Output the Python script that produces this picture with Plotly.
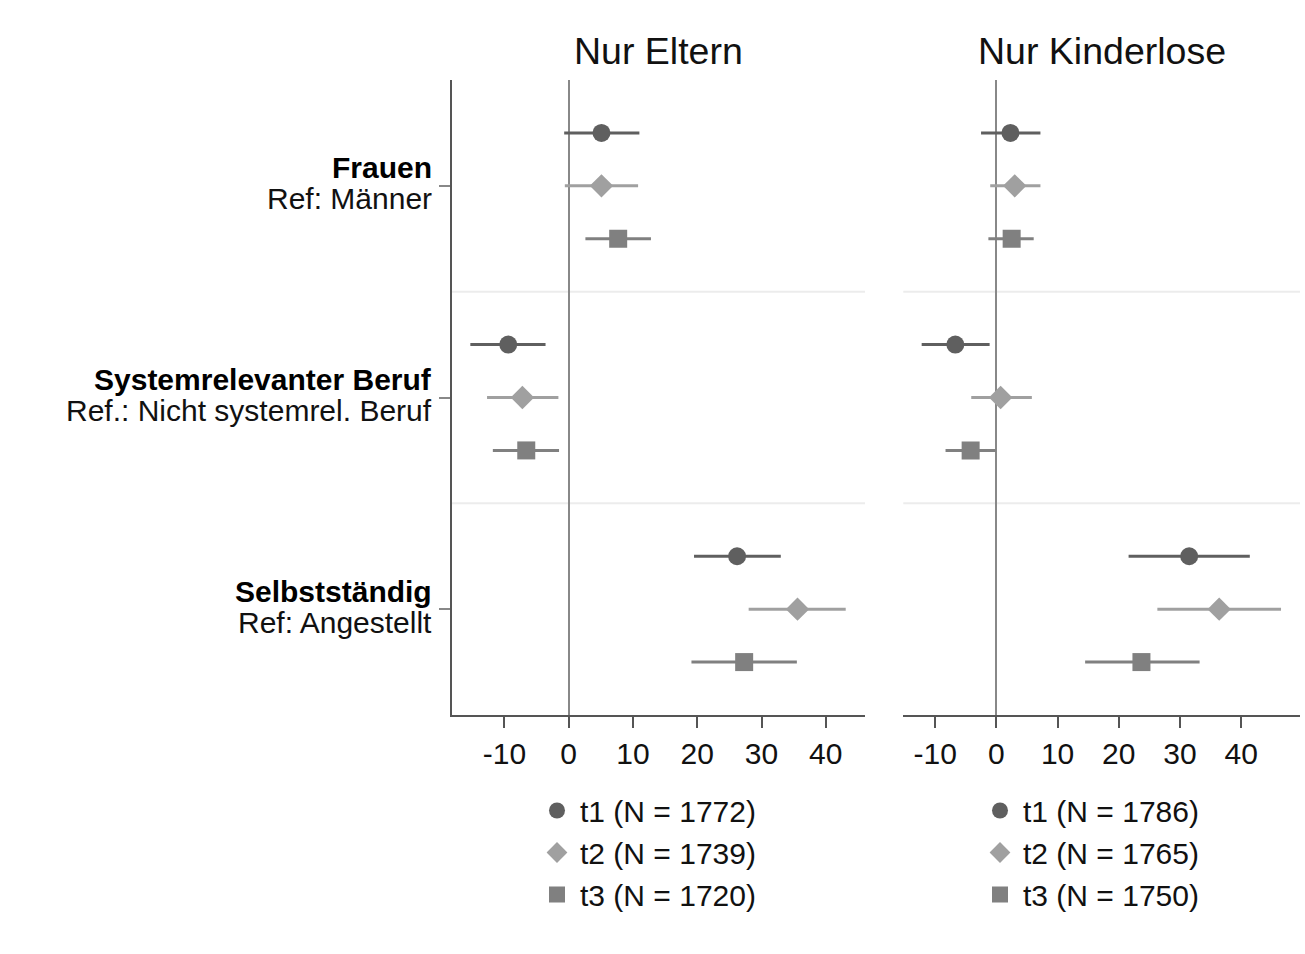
import plotly.graph_objects as go

W, H = 1305, 954

# ---- data ----
groups_bold = ["Frauen", "Systemrelevanter Beruf", "Selbstständig"]
groups_ref = ["Ref: Männer", "Ref.: Nicht systemrel. Beruf", "Ref: Angestellt"]
waves = ["t1", "t2", "t3"]
panels = ["Nur Eltern", "Nur Kinderlose"]
n_eltern = [1772, 1739, 1720]
n_kinderlose = [1786, 1765, 1750]

# estimates per wave (rows: t1,t2,t3; cols: Frauen, Systemrel., Selbstständig)
eltern_est = [[5.1, -9.4, 26.2], [5.1, -7.2, 35.6], [7.7, -6.6, 27.3]]
eltern_lo = [[-0.7, -15.3, 19.5], [-0.6, -12.7, 28.0], [2.6, -11.8, 19.1]]
eltern_hi = [[11.0, -3.6, 33.0], [10.8, -1.6, 43.1], [12.8, -1.5, 35.5]]

kinder_est = [[2.3, -6.7, 31.5], [3.0, 0.7, 36.4], [2.5, -4.2, 23.7]]
kinder_lo = [[-2.5, -12.2, 21.6], [-1.0, -4.1, 26.3], [-1.3, -8.3, 14.5]]
kinder_hi = [[7.2, -1.1, 41.4], [7.2, 5.8, 46.5], [6.1, -0.1, 33.2]]

xticks = [-10, 0, 10, 20, 30, 40]

# ---- styles ----
colors = ["#5f5f5f", "#a0a0a0", "#808080"]
symbols = ["circle", "diamond", "square"]
FONT = "Liberation Sans, Arial, sans-serif"
TXT = "#111111"

fig = go.Figure()

def px_x(p):
    return p / W

def px_y(p):
    return 1 - p / H

dom_y = [px_y(715), px_y(80)]
dom_x1 = [px_x(451.7), px_x(865)]
dom_x2 = [px_x(903.3), px_x(1300)]

panel_data = [
    (eltern_est, eltern_lo, eltern_hi, n_eltern, "x", "y", "legend"),
    (kinder_est, kinder_lo, kinder_hi, n_kinderlose, "x2", "y2", "legend2"),
]

for est, lo, hi, ns, xa, ya, lg in panel_data:
    for t in range(3):
        ys = [4 * g + t - 1 for g in range(3)]
        xs = est[t]
        fig.add_trace(go.Scatter(
            x=xs, y=ys, mode="markers",
            name=f"{waves[t]} (N = {ns[t]})",
            marker=dict(symbol=symbols[t], size=18, color=colors[t], line=dict(width=0)),
            error_x=dict(type="data", symmetric=False,
                         array=[h - e for h, e in zip(hi[t], xs)],
                         arrayminus=[e - l for e, l in zip(xs, lo[t])],
                         width=0, thickness=3, color=colors[t]),
            xaxis=xa, yaxis=ya, legend=lg, showlegend=True,
        ))

axis_common = dict(
    tickvals=xticks, ticktext=[str(v) for v in xticks],
    ticks="outside", ticklen=11, tickwidth=2, tickcolor="#555555",
    showline=True, linecolor="#555555", linewidth=2,
    showgrid=False, zeroline=True, zerolinecolor="#888888", zerolinewidth=2,
    tickfont=dict(family=FONT, size=30, color=TXT),
)

legend_common = dict(xanchor="left", yanchor="top",
                     font=dict(family=FONT, size=30, color=TXT), bgcolor="rgba(0,0,0,0)",
                     traceorder="normal", tracegroupgap=0, itemwidth=36)

fig.update_layout(
    width=W, height=H,
    margin=dict(l=0, r=0, t=0, b=0),
    paper_bgcolor="white", plot_bgcolor="white",
    font=dict(family=FONT, size=30, color=TXT),
    xaxis=dict(domain=dom_x1, range=[-18.2, 46.1], anchor="y", **axis_common),
    xaxis2=dict(domain=dom_x2, range=[-15.2, 49.6], anchor="y2", **axis_common),
    yaxis=dict(domain=dom_y, range=[10, -2], tickvals=[0, 4, 8], ticktext=["", "", ""],
               ticks="outside", ticklen=11, tickwidth=2, tickcolor="#888888",
               showline=True, linecolor="#555555", linewidth=2,
               showgrid=False, zeroline=False, anchor="x"),
    yaxis2=dict(domain=dom_y, range=[10, -2], showticklabels=False, ticks="",
                showline=False, showgrid=False, zeroline=False, anchor="x2"),
    legend=dict(x=px_x(534), y=px_y(784.5), **legend_common),
    legend2=dict(x=px_x(977), y=px_y(784.5), **legend_common),
)

# separators between groups
for ya, xa in (("y", "x"), ("y2", "x2")):
    for yv in (2, 6):
        fig.add_shape(type="line", xref=f"{xa} domain", yref=ya, x0=0, x1=1, y0=yv, y1=yv,
                      line=dict(color="#ececec", width=2), layer="below")

# panel titles
for i, (title, dom) in enumerate(zip(panels, (dom_x1, dom_x2))):
    fig.add_annotation(text=title, xref="paper", yref="paper",
                       x=(dom[0] + dom[1]) / 2, y=px_y(51), xanchor="center", yanchor="middle",
                       showarrow=False, font=dict(family=FONT, size=37.5, color=TXT))

# group labels
for g in range(3):
    fig.add_annotation(text=f"<b>{groups_bold[g]}</b>", xref="paper", yref="y",
                       x=px_x(434), y=4 * g, xanchor="right", yanchor="middle", yshift=18,
                       showarrow=False, font=dict(family=FONT, size=30, color="#000000"))
    fig.add_annotation(text=groups_ref[g], xref="paper", yref="y",
                       x=px_x(434), y=4 * g, xanchor="right", yanchor="middle", yshift=-13,
                       showarrow=False, font=dict(family=FONT, size=30, color=TXT))

fig.write_html("out.html")
